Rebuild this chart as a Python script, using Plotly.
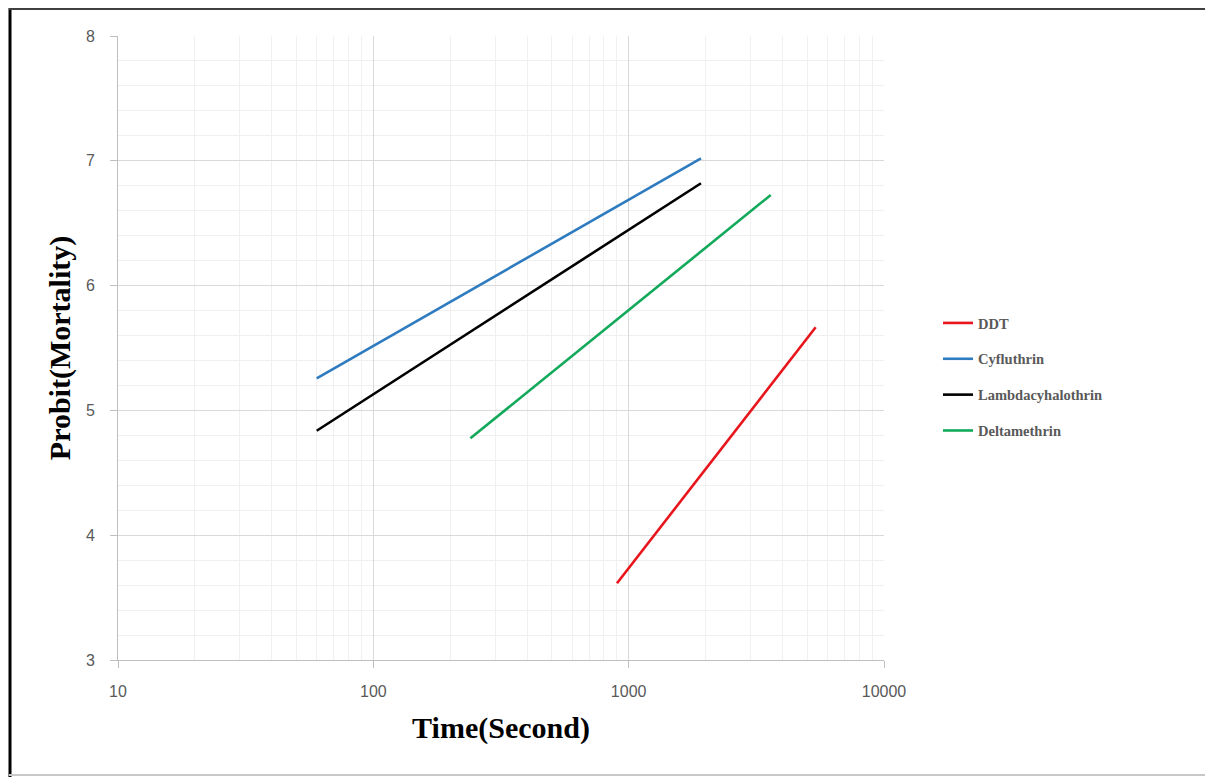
import plotly.graph_objects as go

# ---- data ----
series_names = ["DDT", "Cyfluthrin", "Lambdacyhalothrin", "Deltamethrin"]
series_colors = ["#E8161C", "#2E7BC0", "#000000", "#12A95A"]
ddt_time = [900, 5400]
ddt_probit = [3.615, 5.666]
cyfluthrin_time = [60, 1920]
cyfluthrin_probit = [5.257, 7.02]
lambda_time = [60, 1920]
lambda_probit = [4.837, 6.82]
delta_time = [240, 3600]
delta_probit = [4.776, 6.726]

x_tick_vals = [10, 100, 1000, 10000]
x_tick_text = ["10", "100", "1000", "10000"]
y_tick_vals = [3, 4, 5, 6, 7, 8]

times = [ddt_time, cyfluthrin_time, lambda_time, delta_time]
probits = [ddt_probit, cyfluthrin_probit, lambda_probit, delta_probit]

W, H = 1213, 777
OFF = 8  # page body margin
# plot area in window pixels: x 118..884, y 36..660
L = 118 - OFF
T = 36 - OFF
R = W - (884 - OFF)
B = H - (660 - OFF)

fig = go.Figure()
for i, name in enumerate(series_names):
    fig.add_trace(go.Scatter(
        x=times[i], y=probits[i], mode="lines", name=name,
        line=dict(color=series_colors[i], width=2.6),
        legendgroup=name,
    ))

minor_x = []
for dec in [10, 100, 1000]:
    for k in range(2, 10):
        minor_x.append(dec * k)

pw, ph = W - L - R, H - T - B
def px2x(px):
    return (px - OFF - L) / pw
def py2y(py):
    return (H - B - (py - OFF)) / ph

fig.update_layout(
    width=W, height=H,
    margin=dict(l=L, r=R, t=T, b=B),
    paper_bgcolor="white", plot_bgcolor="white",
    showlegend=True,
    legend=dict(
        x=px2x(938), xanchor="left",
        y=py2y(377), yanchor="middle",
        font=dict(family="Liberation Serif", size=14.5, color="#595959", weight="bold"),
        traceorder="grouped", tracegroupgap=14,
        bgcolor="rgba(0,0,0,0)",
    ),
    xaxis=dict(
        type="log", range=[1, 4],
        tickvals=x_tick_vals, ticktext=x_tick_text,
        ticks="outside", ticklen=7, tickcolor="#BFBFBF", tickwidth=1,
        ticklabelstandoff=10,
        tickfont=dict(family="Liberation Sans", size=16, color="#595959"),
        showgrid=True, gridcolor="#D9D9D9", gridwidth=1,
        minor=dict(tickvals=minor_x, showgrid=True, gridcolor="#F0F0F0", gridwidth=1, ticks=""),
        showline=True, linecolor="#BFBFBF", linewidth=1,
        zeroline=False,
        title=dict(text="<b>Time(Second)</b>", standoff=17,
                   font=dict(family="Liberation Serif", size=30, color="#000000")),
    ),
    yaxis=dict(
        range=[3, 8],
        tickvals=y_tick_vals,
        ticks="outside", ticklen=7, tickcolor="#BFBFBF", tickwidth=1,
        ticklabelstandoff=12,
        tickfont=dict(family="Liberation Sans", size=16, color="#595959"),
        showgrid=True, gridcolor="#D9D9D9", gridwidth=1,
        minor=dict(dtick=0.2, showgrid=True, gridcolor="#F0F0F0", gridwidth=1, ticks=""),
        showline=True, linecolor="#BFBFBF", linewidth=1,
        zeroline=False,
        title=dict(text="<b>Probit(Mortality)</b>", standoff=6,
                   font=dict(family="Liberation Serif", size=30, color="#000000")),
    ),
)

# outer frame
fig.add_shape(type="line", xref="paper", yref="paper",
              x0=px2x(10), x1=px2x(10), y0=py2y(8), y1=py2y(790),
              line=dict(color="#000000", width=3))
fig.add_shape(type="line", xref="paper", yref="paper",
              x0=px2x(9), x1=px2x(1230), y0=py2y(9), y1=py2y(9),
              line=dict(color="#404040", width=2))
fig.add_shape(type="line", xref="paper", yref="paper",
              x0=px2x(9), x1=px2x(1230), y0=py2y(775), y1=py2y(775),
              line=dict(color="#C8C8C8", width=2))

fig.write_html("out.html")
